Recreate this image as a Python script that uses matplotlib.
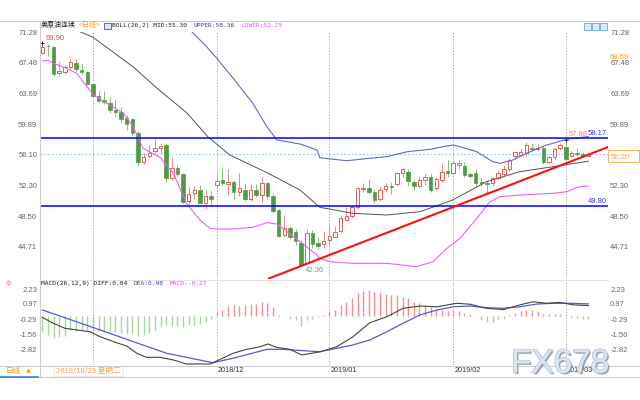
import matplotlib
matplotlib.use("Agg")
import matplotlib.pyplot as plt
import matplotlib.patheffects as pe
from matplotlib.patches import Rectangle
from matplotlib.lines import Line2D

plt.rcParams['font.family'] = ['Liberation Sans', 'Noto Sans CJK SC', 'DejaVu Sans']

W, H = 640, 400

# daily candles, 2018/10/18 .. 2019/03/06 (index 0..97)
opens = [68.7, 69.6, 69.4, 66.2, 66.3, 66.9, 67.5, 66.6, 66.3, 64.8,
         63.4, 62.9, 62.5, 61.6, 61.4, 60.6, 60.5, 58.8, 55.2, 55.95,
         56.6, 56.9, 57.3, 53.2, 54.5, 53.7, 50.4, 51.4, 51.8, 50.2,
         51.0, 52.4, 53.0, 52.5, 52.8, 51.5, 51.8, 50.7, 51.7, 51.1,
         52.6, 51.0, 49.3, 46.2, 47.1, 46.6, 45.2, 42.7, 46.4, 45.2,
         45.1, 45.6, 46.0, 46.7, 48.1, 48.5, 49.6, 51.9, 52.0, 51.5,
         50.6, 51.9, 52.2, 52.5, 53.8, 54.0, 52.8, 52.3, 53.0, 53.3,
         52.0, 53.0, 54.1, 53.8, 54.9, 54.7, 53.7, 53.8, 52.8, 52.6,
         52.6, 53.2, 53.7, 54.3, 56.0, 56.1, 56.3, 57.0, 56.8, 57.0,
         55.25, 55.8, 57.0, 57.1, 56.0, 56.3, 56.2, 56.0]
highs = [69.9, 69.8, 69.5, 67.6, 67.2, 67.9, 67.9, 67.4, 66.5, 65.0,
         64.1, 64.0, 63.3, 62.9, 62.0, 61.0, 60.7, 59.0, 56.3, 57.3,
         58.0, 57.6, 57.6, 55.8, 54.8, 53.9, 52.1, 52.3, 52.4, 51.8,
         51.6, 53.8, 54.6, 54.3, 53.0, 53.9, 52.6, 52.5, 52.5, 53.3,
         52.8, 51.4, 49.4, 48.7, 47.3, 46.9, 45.6, 46.9, 46.8, 45.9,
         46.7, 47.6, 47.3, 48.7, 49.6, 49.9, 52.2, 52.6, 53.1, 51.9,
         52.2, 52.6, 52.8, 54.0, 54.5, 54.3, 53.0, 53.4, 53.9, 53.8,
         53.3, 55.0, 55.4, 55.4, 55.5, 55.2, 54.0, 54.3, 53.2, 52.9,
         53.4, 54.2, 54.8, 55.7, 56.6, 57.0, 57.7, 57.5, 57.4, 57.2,
         56.0, 57.0, 57.6, 57.88, 56.6, 56.9, 56.4, 56.4]
lows = [68.5, 68.3, 65.8, 66.0, 66.1, 66.7, 66.5, 66.0, 64.7, 63.2,
        62.6, 62.4, 61.3, 60.8, 60.0, 59.2, 58.6, 54.7, 55.0, 55.7,
        56.2, 56.3, 52.7, 53.0, 53.5, 50.1, 50.0, 50.7, 50.1, 49.4,
        49.8, 52.0, 52.3, 51.1, 50.5, 51.0, 50.4, 50.4, 50.9, 50.3,
        50.6, 48.9, 45.9, 45.9, 45.7, 44.9, 42.36, 42.6, 44.6, 44.5,
        44.6, 44.9, 45.8, 46.5, 47.9, 48.3, 49.4, 51.5, 51.2, 50.2,
        50.4, 51.5, 51.3, 52.2, 53.4, 52.3, 51.8, 52.0, 52.4, 51.5,
        51.8, 52.8, 53.3, 53.6, 54.3, 53.3, 53.2, 52.3, 52.2, 51.2,
        52.3, 53.0, 53.5, 54.1, 55.6, 55.9, 56.0, 56.6, 56.6, 55.0,
        55.0, 55.6, 56.7, 55.3, 55.8, 55.9, 55.8, 55.9]
closes = [69.4, 69.5, 66.1, 66.4, 66.9, 67.6, 66.7, 66.3, 64.9, 63.4,
          62.8, 62.6, 61.6, 61.4, 60.5, 59.9, 58.8, 55.2, 55.8, 56.35,
          56.9, 57.2, 53.2, 54.5, 53.7, 50.3, 51.3, 51.8, 50.2, 51.0,
          50.6, 52.9, 52.6, 52.8, 51.5, 52.0, 50.6, 51.8, 51.1, 52.6,
          51.0, 49.1, 46.1, 47.1, 46.0, 45.4, 42.5, 46.4, 45.1, 44.8,
          45.5, 46.1, 46.6, 48.3, 48.5, 49.6, 52.0, 52.0, 51.5, 50.5,
          51.7, 52.2, 52.1, 53.8, 54.3, 52.9, 52.3, 53.0, 53.4, 51.8,
          53.1, 54.0, 53.9, 55.1, 55.1, 53.6, 53.5, 52.6, 52.6, 52.5,
          53.2, 53.9, 54.4, 55.5, 56.4, 56.4, 57.3, 56.8, 57.0, 55.25,
          55.8, 56.8, 57.3, 55.55, 56.3, 56.2, 56.1, 56.2]

# BOLL(26,2) lines (index, price)
mid_x = [6.8, 9.0, 16.1, 20.4, 25.7, 29.4, 33.3, 39.9, 45.8, 49.3, 55.2,
         61.2, 67.1, 72.9, 78.9, 84.8, 90.7, 97.0]
mid_y = [71.28, 70.63, 66.99, 64.32, 61.27, 58.34, 56.08, 53.89, 51.75,
         49.61, 48.87, 48.66, 49.07, 50.51, 52.78, 54.01, 54.63, 55.30]
upper_x = [26.6, 29.2, 31.0, 33.9, 37.4, 39.9, 41.7, 45.8, 48.8, 49.3, 54.1,
           58.2, 61.2, 64.8, 68.9, 71.9, 73.0, 74.2, 77.2, 80.0, 81.3, 83.6,
           86.0, 89.6, 93.2, 97.0]
upper_y = [71.28, 69.46, 68.03, 65.56, 62.47, 59.57, 57.93, 57.44, 56.69,
           55.74, 55.37, 55.67, 55.87, 56.48, 56.78, 57.19, 57.31, 57.10,
           56.48, 55.25, 55.05, 55.46, 56.28, 57.31, 58.02, 58.36]
lower_x = [0.0, 1.07, 1.95, 4.3, 6.1, 9.1, 11.5, 14.4, 16.1, 17.9, 20.9,
           23.3, 25.6, 28.0, 29.8, 31.0, 33.9, 37.4, 39.9, 41.7, 44.5, 48.8,
           49.3, 51.1, 55.2, 61.2, 66.5, 69.4, 71.9, 74.2, 77.2, 79.5, 81.3,
           84.8, 90.7, 93.2, 95.1, 97.0]
lower_y = [67.70, 67.78, 67.41, 66.79, 66.17, 63.49, 62.47, 61.23, 59.66,
           56.90, 55.79, 53.81, 50.11, 48.04, 47.02, 46.93, 46.93, 47.14,
           47.71, 47.55, 46.06, 43.72, 43.31, 42.89, 42.69, 42.69, 42.27,
           42.89, 44.54, 45.78, 48.25, 50.30, 50.92, 51.13, 51.34, 51.54,
           52.08, 52.25]

# MACD(26,12,9)
diff_x = [0, 1.95, 4.03, 6.1, 8.5, 10.25, 13.2, 15.0, 16.8, 18.5, 20.9, 23.3,
          25.6, 29.8, 31.6, 33.9, 36.3, 38.7, 40.1, 41.6, 44.0, 46.1, 49.3,
          52.3, 55.2, 58.2, 61.2, 64.1, 67.1, 70.1, 73.6, 76.0, 78.9, 81.9,
          84.9, 87.2, 89.6, 92.0, 94.3, 97]
diff_y = [-0.15, -0.65, -1.07, -1.21, -1.36, -1.78, -2.28, -2.56, -3.17,
          -3.51, -3.51, -3.73, -4.07, -4.07, -3.68, -3.17, -2.84, -2.62,
          -2.39, -2.67, -2.84, -3.31, -3.05, -2.62, -1.78, -0.60, -0.10,
          0.61, 0.80, 0.73, 1.03, 0.95, 0.61, 0.50, 0.90, 1.16, 1.03, 1.10,
          0.90, 0.84]
dea_x = [0, 4.3, 10.25, 16.2, 22.1, 25.6, 30.3, 33.9, 39.9, 42.8, 49.3, 55.2,
         58.2, 61.2, 64.1, 67.1, 70.1, 73.1, 76.0, 78.9, 81.9, 84.9, 87.9,
         90.8, 93.7, 97]
dea_y = [0.47, -0.23, -1.21, -2.20, -3.17, -3.51, -3.96, -3.59, -2.84, -2.84,
         -3.04, -2.47, -2.05, -1.36, -0.65, 0.05, 0.47, 0.74, 0.80, 0.66,
         0.61, 0.74, 0.97, 1.03, 1.03, 0.98]
macd_hist = [-1.40, -1.60, -1.86, -1.77, -1.71, -1.20, -1.30, -1.20, -1.25, -1.30,
             -1.30, -1.37, -1.30, -1.37, -1.43, -1.54, -1.43, -1.71, -1.60, -1.43,
             -1.20, -0.95, -0.80, -0.86, -0.86, -1.00, -0.80, -0.86, -0.70, -0.50,
             -0.33, 0.32, 0.50, 0.80, 0.90, 0.80, 0.90, 1.00, 0.97, 1.10,
             1.05, 0.70, 0.05, 0.0, -0.30, -0.40, -0.85, -0.40, -0.30, -0.15,
             0.05, 0.30, 0.50, 0.90, 1.10, 1.50, 1.90, 2.06, 2.15, 2.00,
             1.90, 1.80, 1.75, 1.75, 1.60, 1.50, 1.15, 1.05, 0.90, 0.70,
             0.50, 0.45, 0.40, 0.45, 0.40, 0.25, 0.10, 0.0, -0.37, -0.50,
             -0.50, -0.37, -0.30, 0.05, 0.25, 0.40, 0.50, 0.50, 0.40, 0.15,
             0.10, 0.15, 0.15, 0.0, -0.20, -0.20, -0.25, -0.27]

main_ticks = [71.28, 67.48, 63.69, 59.89, 56.10, 52.30, 48.50, 44.71]
macd_ticks = [2.23, 0.97, -0.29, -1.56, -2.82]
month_idx = [9, 31, 51, 73, 93]
month_labels = ['', '2018/12', '2019/01', '2019/02', '2019/03']
resist, support = 58.17, 49.80
trend_x = [40.3, 100.5]
trend_y = [40.83, 57.06]
last_price = 56.20

fig = plt.figure(figsize=(W / 100, H / 100), dpi=100)


def px_axes(x0, y0, x1, y1):
    return fig.add_axes([x0 / W, 1 - y1 / H, (x1 - x0) / W, (y1 - y0) / H])


def ftext(x, y, s, **kw):
    kw.setdefault('va', 'center')
    return fig.text(x / W, 1 - y / H, s, **kw)


def fline(xs, ys, **kw):
    fig.add_artist(Line2D([x / W for x in xs], [1 - y / H for y in ys], **kw))


mono = 'DejaVu Sans Mono'
cjk = ['Noto Sans CJK SC', 'DejaVu Sans']

# ---------------- main panel ----------------
ax = px_axes(39.5, 32, 608, 279)
ax.set_xlim(-0.5, 100.5)
ax.set_ylim(40.75, 71.28)
for s in ax.spines.values():
    s.set_visible(False)
ax.set_xticks([])
ax.set_yticks(main_ticks)
ax.set_yticklabels(['%.2f' % t for t in main_ticks])
ax.tick_params(axis='y', length=0, pad=1.6, labelleft=True, labelright=True,
               labelsize=5.5, labelcolor='#666666')

for m in month_idx:
    ax.axvline(m, color='#b0b0b0', lw=0.7, ls=(0, (1.5, 1.5)), zorder=0)

ax.axhline(last_price, color='#99ccff', lw=0.9, ls=(0, (1.5, 1.5)), zorder=1)

for i in range(len(opens)):
    o, h, l, c = opens[i], highs[i], lows[i], closes[i]
    up = c >= o
    wick = '#ea8a8a' if up else '#86c27a'
    ax.vlines(i, l, h, color=wick, lw=0.7, zorder=3)
    bot = min(o, c)
    ht = max(abs(c - o), 0.09)
    if up:
        ax.bar(i, ht, bottom=bot, width=0.62, color='#fffafa',
               edgecolor='#e2605c', linewidth=0.7, zorder=4)
    else:
        ax.bar(i, ht, bottom=bot, width=0.62, color='#4f9b45',
               edgecolor='#4f9b45', linewidth=0.5, zorder=4)

ax.plot(mid_x, mid_y, color='#555555', lw=0.7, zorder=5)
ax.plot(upper_x, upper_y, color='#6666c8', lw=0.8, zorder=5)
ax.plot(lower_x, lower_y, color='#f060f0', lw=0.8, zorder=5)

ax.axhline(resist, color='#0000ff', lw=1.1, zorder=6)
ax.axhline(support, color='#0000ff', lw=1.1, zorder=6)
ax.plot(trend_x, trend_y, color='#ff1010', lw=1.5, zorder=7)

ax.plot([0, 93], [69.9, 57.88], ls='none', marker='+', ms=3.5,
        mew=0.7, color='#222222', zorder=8)
ax.text(0.5, 69.9 + 0.55, '69.90', fontsize=5.5, color='#e05050', va='center')
ax.text(46.6, 42.36 - 0.55, '42.36', fontsize=5.5, color='#6aa860', va='center')
ax.text(93.5, 58.65, '57.88', fontsize=5.5, color='#f08080', va='center')
ax.text(100.3, resist + 0.55, '%.2f' % resist, fontsize=5.5, color='#3333ff',
        va='center', ha='right')
ax.text(100.3, support + 0.55, '%.2f' % support, fontsize=5.5, color='#3333ff',
        va='center', ha='right')

# ---------------- MACD panel ----------------
mx = px_axes(39.5, 280, 608, 365)
mx.set_xlim(-0.5, 100.5)
mx.set_ylim(-4.154, 2.986)
for s in mx.spines.values():
    s.set_visible(False)
mx.set_xticks([])
mx.set_yticks(macd_ticks)
mx.set_yticklabels(['%.2f' % t for t in macd_ticks])
mx.tick_params(axis='y', length=0, pad=1.6, labelleft=True, labelright=True,
               labelsize=5.5, labelcolor='#666666')
for m in month_idx:
    mx.axvline(m, color='#b0b0b0', lw=0.7, ls=(0, (1.5, 1.5)), zorder=0)
for i, v in enumerate(macd_hist):
    if v == 0:
        continue
    col = '#f09090' if v > 0 else '#a6d69c'
    mx.vlines(i, 0, v, color=col, lw=1.0, zorder=2)
mx.plot(diff_x, diff_y, color='#444444', lw=0.8, zorder=4)
mx.plot(dea_x, dea_y, color='#5a5acb', lw=0.9, zorder=3)

# ---------------- frame, titles, labels ----------------
fline([0, 640], [21, 21], color='#cccccc', lw=0.8)
fline([39.5, 39.5], [21, 376], color='#cfcfcf', lw=0.8)
fline([39.5, 608], [279.5, 279.5], color='#e2e2e2', lw=0.7)
fline([0, 640], [365.5, 365.5], color='#cccccc', lw=0.8)
fline([0, 640], [376.5, 376.5], color='#cccccc', lw=0.8)
fline([0, 38], [376.5, 376.5], color='#3b7de0', lw=1.2)

ftext(41, 25.5, '美原油连续', fontsize=5.0, color='#222222', family=cjk)
ftext(79, 25.5, '<日线>', fontsize=5.0, color='#ff9900', family=cjk)
fig.add_artist(Rectangle((104 / W, 1 - 29 / H), 7 / W, 6 / H, transform=fig.transFigure,
                         facecolor='#dfe4ff', edgecolor='#5050a0', lw=0.6))
ftext(112, 25.5, 'BOLL(26,2) MID:55.30', fontsize=4.5, family=mono, color='#222222')
ftext(194, 25.5, 'UPPER:58.36', fontsize=4.5, family=mono, color='#3a3ab0')
ftext(241, 25.5, 'LOWER:52.25', fontsize=4.5, family=mono, color='#ff40ff')

for k in range(3):
    x0 = 584 + k * 8.2
    fig.add_artist(Rectangle((x0 / W, 1 - 30 / H), 7 / W, 7 / H, transform=fig.transFigure,
                             facecolor='#d8ecfb', edgecolor='#6aa6d8', lw=0.6))

ftext(610, 57.5, '68.59', fontsize=5.5, color='#ff9933')
fig.add_artist(Rectangle((608 / W, 1 - 162 / H), 31 / W, 12 / H, transform=fig.transFigure,
                         facecolor='white', edgecolor='#ffb060', lw=0.7, zorder=10))
ftext(611, 157, '%.2f' % last_price, fontsize=5.5, color='#ffa040', zorder=11)

ftext(4, 283.5, '☼', fontsize=6, color='#e05050', family=['DejaVu Sans'])
ftext(41, 283.5, 'MACD(26,12,9) DIFF:0.84', fontsize=4.5, family=mono, color='#222222')
ftext(134, 283.5, 'DEA:0.98', fontsize=4.5, family=mono, color='#4545c0')
ftext(170, 283.5, 'MACD:-0.27', fontsize=4.5, family=mono, color='#ff33ff')

for m, lab in zip(month_idx, month_labels):
    if lab:
        ftext(42.3 + m * 5.63 + 1, 371, lab, fontsize=5.2, color='#333333')

ftext(6, 371, '日线', fontsize=5.5, color='#ff9900', family=cjk)
ftext(26, 371, '▲', fontsize=4.5, color='#ff9900', family=['DejaVu Sans'])
fig.add_artist(Rectangle((54 / W, 1 - 376 / H), 69 / W, 10 / H, transform=fig.transFigure,
                         facecolor='white', edgecolor='#e8e8e8', lw=0.6))
ftext(56, 371, '2018/10/23 星期二', fontsize=5.5, color='#ffa040', family=cjk)

wm = ftext(511, 364, 'FX678', fontsize=24, color='#d6e4f3', zorder=20,
           family=['Liberation Sans'])
wm.set_path_effects([pe.withSimplePatchShadow(offset=(1.2, -1.2), shadow_rgbFace='#7f8a96', alpha=0.8),
                     pe.withStroke(linewidth=1.0, foreground='#a9b8c8'), pe.Normal()])

fig.savefig('out.png', dpi=100)
